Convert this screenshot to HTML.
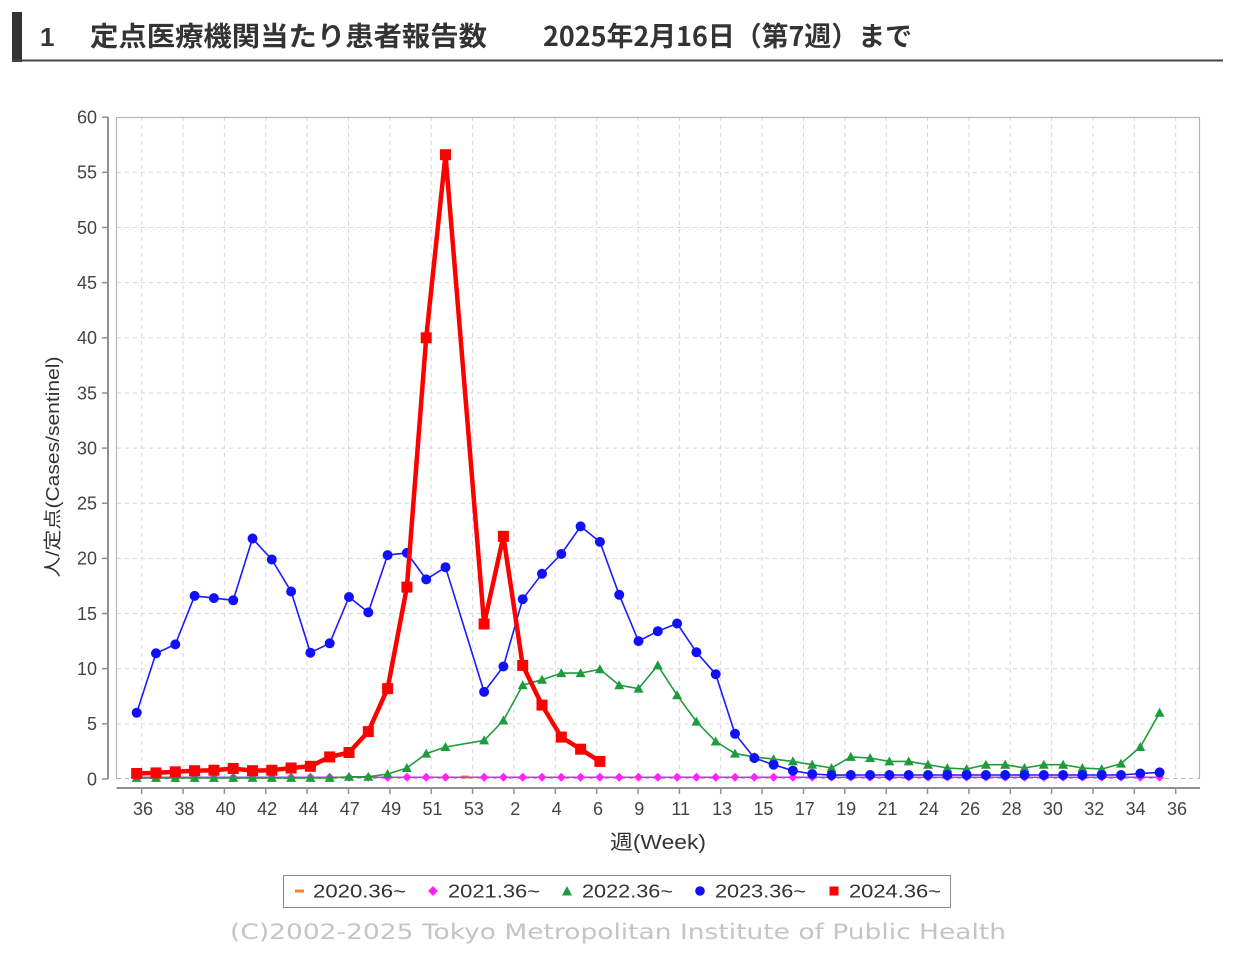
<!DOCTYPE html>
<html>
<head>
<meta charset="utf-8">
<style>
  html,body{margin:0;padding:0;background:#fff;}
  svg{display:block;}
  .tk{font-family:"Liberation Sans","DejaVu Sans",sans-serif;font-size:18px;fill:#444;}
</style>
</head>
<body>
<svg width="1237" height="960" viewBox="0 0 1237 960" xmlns="http://www.w3.org/2000/svg">
  <defs>
    <marker id="mB" markerWidth="12" markerHeight="12" refX="6" refY="6" markerUnits="userSpaceOnUse">
      <circle cx="6" cy="6" r="5" fill="#1010ff"/>
    </marker>
    <marker id="mG" markerWidth="12" markerHeight="12" refX="6" refY="6.5" markerUnits="userSpaceOnUse">
      <polygon points="6,1.5 11,10.5 1,10.5" fill="#1e9b3c"/>
    </marker>
    <marker id="mR" markerWidth="12" markerHeight="12" refX="6" refY="6" markerUnits="userSpaceOnUse">
      <rect x="0.5" y="0.5" width="11" height="11" fill="#ff0000"/>
    </marker>
    <marker id="mM" markerWidth="12" markerHeight="12" refX="6" refY="6" markerUnits="userSpaceOnUse">
      <polygon points="6,1.5 10.5,6 6,10.5 1.5,6" fill="#ff22ff"/>
    </marker>
  </defs>

  <!-- Title -->
  <rect x="12" y="12" width="10" height="50" fill="#333"/>
  <rect x="12" y="59.5" width="1211" height="2" fill="#444"/>
  <text x="40" y="46" font-family="'Liberation Sans','Noto Sans CJK JP',sans-serif" font-size="26" font-weight="600" fill="#333">1</text>
  <text x="90" y="46" font-family="'Liberation Sans','Noto Sans CJK JP',sans-serif" font-size="27" font-weight="600" fill="#333" textLength="397" lengthAdjust="spacingAndGlyphs">定点医療機関当たり患者報告数</text>
  <text x="543" y="46" font-family="'Noto Sans CJK JP','Liberation Sans',sans-serif" font-size="27" font-weight="600" fill="#333" textLength="369" lengthAdjust="spacingAndGlyphs">2025年2月16日（第7週）まで</text>

  <!-- Plot grid -->
  <g stroke="#d6d6d6" stroke-width="1" stroke-dasharray="4 4" fill="none">
    <line x1="117" x2="1200" y1="172.35" y2="172.35"/>
    <line x1="117" x2="1200" y1="227.5" y2="227.5"/>
    <line x1="117" x2="1200" y1="282.65" y2="282.65"/>
    <line x1="117" x2="1200" y1="337.8" y2="337.8"/>
    <line x1="117" x2="1200" y1="392.95" y2="392.95"/>
    <line x1="117" x2="1200" y1="448.1" y2="448.1"/>
    <line x1="117" x2="1200" y1="503.25" y2="503.25"/>
    <line x1="117" x2="1200" y1="558.4" y2="558.4"/>
    <line x1="117" x2="1200" y1="613.55" y2="613.55"/>
    <line x1="117" x2="1200" y1="668.7" y2="668.7"/>
    <line x1="117" x2="1200" y1="723.85" y2="723.85"/>
    <line x1="117" x2="1200" y1="778.5" y2="778.5" stroke="#b8b0c8"/>
    <line x1="141.7" x2="141.7" y1="117" y2="779"/>
    <line x1="183.1" x2="183.1" y1="117" y2="779"/>
    <line x1="224.4" x2="224.4" y1="117" y2="779"/>
    <line x1="265.8" x2="265.8" y1="117" y2="779"/>
    <line x1="307.1" x2="307.1" y1="117" y2="779"/>
    <line x1="348.5" x2="348.5" y1="117" y2="779"/>
    <line x1="389.9" x2="389.9" y1="117" y2="779"/>
    <line x1="431.2" x2="431.2" y1="117" y2="779"/>
    <line x1="472.6" x2="472.6" y1="117" y2="779"/>
    <line x1="513.9" x2="513.9" y1="117" y2="779"/>
    <line x1="555.3" x2="555.3" y1="117" y2="779"/>
    <line x1="596.7" x2="596.7" y1="117" y2="779"/>
    <line x1="638.0" x2="638.0" y1="117" y2="779"/>
    <line x1="679.4" x2="679.4" y1="117" y2="779"/>
    <line x1="720.7" x2="720.7" y1="117" y2="779"/>
    <line x1="762.1" x2="762.1" y1="117" y2="779"/>
    <line x1="803.5" x2="803.5" y1="117" y2="779"/>
    <line x1="844.8" x2="844.8" y1="117" y2="779"/>
    <line x1="886.2" x2="886.2" y1="117" y2="779"/>
    <line x1="927.5" x2="927.5" y1="117" y2="779"/>
    <line x1="968.9" x2="968.9" y1="117" y2="779"/>
    <line x1="1010.3" x2="1010.3" y1="117" y2="779"/>
    <line x1="1051.6" x2="1051.6" y1="117" y2="779"/>
    <line x1="1093.0" x2="1093.0" y1="117" y2="779"/>
    <line x1="1134.3" x2="1134.3" y1="117" y2="779"/>
    <line x1="1175.7" x2="1175.7" y1="117" y2="779"/>
  </g>
  <!-- plot border top/left/right -->
  <path d="M116.5,779 L116.5,117.5 L1199.5,117.5 L1199.5,779" fill="none" stroke="#b4b4b4" stroke-width="1.2"/>

  <!-- Y axis -->
  <line x1="108" x2="108" y1="117" y2="779" stroke="#909090" stroke-width="2"/>
  <g stroke="#909090" stroke-width="1.5">
    <line x1="102" x2="108" y1="117.2" y2="117.2"/>
    <line x1="102" x2="108" y1="172.35" y2="172.35"/>
    <line x1="102" x2="108" y1="227.5" y2="227.5"/>
    <line x1="102" x2="108" y1="282.65" y2="282.65"/>
    <line x1="102" x2="108" y1="337.8" y2="337.8"/>
    <line x1="102" x2="108" y1="392.95" y2="392.95"/>
    <line x1="102" x2="108" y1="448.1" y2="448.1"/>
    <line x1="102" x2="108" y1="503.25" y2="503.25"/>
    <line x1="102" x2="108" y1="558.4" y2="558.4"/>
    <line x1="102" x2="108" y1="613.55" y2="613.55"/>
    <line x1="102" x2="108" y1="668.7" y2="668.7"/>
    <line x1="102" x2="108" y1="723.85" y2="723.85"/>
    <line x1="102" x2="108" y1="779" y2="779"/>
  </g>
  <g class="tk" text-anchor="end">
    <text x="97" y="123.5">60</text>
    <text x="97" y="178.65">55</text>
    <text x="97" y="233.8">50</text>
    <text x="97" y="288.95">45</text>
    <text x="97" y="344.1">40</text>
    <text x="97" y="399.25">35</text>
    <text x="97" y="454.4">30</text>
    <text x="97" y="509.55">25</text>
    <text x="97" y="564.7">20</text>
    <text x="97" y="619.85">15</text>
    <text x="97" y="675">10</text>
    <text x="97" y="730.15">5</text>
    <text x="97" y="785.3">0</text>
  </g>
  <text transform="translate(59,467) rotate(-90)" text-anchor="middle" font-family="'Liberation Sans','Noto Sans CJK JP',sans-serif" font-size="18" fill="#333" textLength="221" lengthAdjust="spacingAndGlyphs">人/定点(Cases/sentinel)</text>

  <!-- X axis -->
  <line x1="116.5" x2="1200" y1="788" y2="788" stroke="#909090" stroke-width="2"/>
  <g stroke="#909090" stroke-width="1.5">
    <line x1="141.7" x2="141.7" y1="788" y2="794"/>
    <line x1="183.1" x2="183.1" y1="788" y2="794"/>
    <line x1="224.4" x2="224.4" y1="788" y2="794"/>
    <line x1="265.8" x2="265.8" y1="788" y2="794"/>
    <line x1="307.1" x2="307.1" y1="788" y2="794"/>
    <line x1="348.5" x2="348.5" y1="788" y2="794"/>
    <line x1="389.9" x2="389.9" y1="788" y2="794"/>
    <line x1="431.2" x2="431.2" y1="788" y2="794"/>
    <line x1="472.6" x2="472.6" y1="788" y2="794"/>
    <line x1="513.9" x2="513.9" y1="788" y2="794"/>
    <line x1="555.3" x2="555.3" y1="788" y2="794"/>
    <line x1="596.7" x2="596.7" y1="788" y2="794"/>
    <line x1="638.0" x2="638.0" y1="788" y2="794"/>
    <line x1="679.4" x2="679.4" y1="788" y2="794"/>
    <line x1="720.7" x2="720.7" y1="788" y2="794"/>
    <line x1="762.1" x2="762.1" y1="788" y2="794"/>
    <line x1="803.5" x2="803.5" y1="788" y2="794"/>
    <line x1="844.8" x2="844.8" y1="788" y2="794"/>
    <line x1="886.2" x2="886.2" y1="788" y2="794"/>
    <line x1="927.5" x2="927.5" y1="788" y2="794"/>
    <line x1="968.9" x2="968.9" y1="788" y2="794"/>
    <line x1="1010.3" x2="1010.3" y1="788" y2="794"/>
    <line x1="1051.6" x2="1051.6" y1="788" y2="794"/>
    <line x1="1093.0" x2="1093.0" y1="788" y2="794"/>
    <line x1="1134.3" x2="1134.3" y1="788" y2="794"/>
    <line x1="1175.7" x2="1175.7" y1="788" y2="794"/>
  </g>
  <g class="tk" text-anchor="middle">
    <text x="143" y="815">36</text>
    <text x="184.4" y="815">38</text>
    <text x="225.7" y="815">40</text>
    <text x="267.1" y="815">42</text>
    <text x="308.4" y="815">44</text>
    <text x="349.8" y="815">47</text>
    <text x="391.2" y="815">49</text>
    <text x="432.5" y="815">51</text>
    <text x="473.9" y="815">53</text>
    <text x="515.2" y="815">2</text>
    <text x="556.6" y="815">4</text>
    <text x="598" y="815">6</text>
    <text x="639.3" y="815">9</text>
    <text x="680.7" y="815">11</text>
    <text x="722" y="815">13</text>
    <text x="763.4" y="815">15</text>
    <text x="804.8" y="815">17</text>
    <text x="846.1" y="815">19</text>
    <text x="887.5" y="815">21</text>
    <text x="928.8" y="815">24</text>
    <text x="970.2" y="815">26</text>
    <text x="1011.6" y="815">28</text>
    <text x="1052.9" y="815">30</text>
    <text x="1094.3" y="815">32</text>
    <text x="1135.6" y="815">34</text>
    <text x="1177" y="815">36</text>
  </g>
  <text x="610" y="849" font-family="'Liberation Sans','Noto Sans CJK JP',sans-serif" font-size="20" fill="#333" textLength="96" lengthAdjust="spacingAndGlyphs">週(Week)</text>

  <!-- Series: 2020 (orange) -->
  <rect x="460.8" y="775.5" width="8" height="3" fill="#ff7f27"/>

  <!-- Series: 2021 (magenta) -->
  <path d="M136.7,777.2 L156,777.2 L175.3,777.2 L194.6,777.2 L213.9,777.2 L233.2,777.2 L252.5,777.2 L271.8,777.2 L291.1,777.2 L310.4,777.2 L329.7,777.2 L349,777.2 L368.3,777.2 L387.6,777.2 L406.9,777.2 L426.2,777.2 L445.5,777.2 L484.1,777.2 L503.4,777.2 L522.7,777.2 L542,777.2 L561.3,777.2 L580.6,777.2 L599.9,777.2 L619.2,777.2 L638.5,777.2 L657.8,777.2 L677.1,777.2 L696.4,777.2 L715.7,777.2 L735,777.2 L754.3,777.2 L773.6,777.2 L792.9,777.2 L812.2,777.2 L831.5,777.2 L850.8,777.2 L870.1,777.2 L889.4,777.2 L908.7,777.2 L928,777.2 L947.3,777.2 L966.6,777.2 L985.9,777.2 L1005.2,777.2 L1024.5,777.2 L1043.8,777.2 L1063.1,777.2 L1082.4,777.2 L1101.7,777.2 L1121,777.2 L1140.3,777.2 L1159.6,777.2" fill="none" stroke="#b040e0" stroke-width="1.5" marker-start="url(#mM)" marker-mid="url(#mM)" marker-end="url(#mM)"/>

  <!-- Series: 2022 (green) -->
  <path d="M136.7,777.9 L156,777.9 L175.3,777.9 L194.6,777.9 L213.9,777.9 L233.2,777.9 L252.5,777.9 L271.8,777.9 L291.1,777.9 L310.4,777.9 L329.7,777.9 L349,776.8 L368.3,776.8 L387.6,774 L406.9,768 L426.2,753.6 L445.5,747 L484.1,740.4 L503.4,720.5 L522.7,685.2 L542,679.7 L561.3,673.1 L580.6,673.1 L599.9,669.3 L619.2,685.2 L638.5,688.6 L657.8,665.4 L677.1,695.2 L696.4,721.6 L715.7,741.5 L735,753.6 L754.3,756.9 L773.6,759.1 L792.9,761.4 L812.2,764.7 L831.5,768 L850.8,756.9 L870.1,758 L889.4,761.4 L908.7,761.4 L928,764.7 L947.3,768 L966.6,769.1 L985.9,764.7 L1005.2,764.7 L1024.5,768 L1043.8,764.7 L1063.1,764.7 L1082.4,768 L1101.7,769.1 L1121,763.6 L1140.3,747 L1159.6,712.8" fill="none" stroke="#1e9b3c" stroke-width="1.6" stroke-linejoin="round" marker-start="url(#mG)" marker-mid="url(#mG)" marker-end="url(#mG)"/>

  <!-- Series: 2023 (blue) -->
  <path d="M136.7,712.8 L156,653.3 L175.3,644.4 L194.6,595.9 L213.9,598.1 L233.2,600.3 L252.5,538.5 L271.8,559.5 L291.1,591.5 L310.4,652.7 L329.7,643.3 L349,597 L368.3,612.4 L387.6,555.1 L406.9,552.9 L426.2,579.4 L445.5,567.2 L484.1,691.9 L503.4,666.5 L522.7,599.2 L542,573.8 L561.3,554 L580.6,526.4 L599.9,541.9 L619.2,594.8 L638.5,641.1 L657.8,631.2 L677.1,623.5 L696.4,652.2 L715.7,674.2 L735,733.8 L754.3,758 L773.6,764.7 L792.9,770.7 L812.2,774 L831.5,775.1 L850.8,775 L870.1,775 L889.4,775 L908.7,775 L928,775 L947.3,775 L966.6,775 L985.9,775 L1005.2,775 L1024.5,775 L1043.8,775 L1063.1,775 L1082.4,775 L1101.7,775 L1121,775 L1140.3,773.5 L1159.6,772.4" fill="none" stroke="#1a1aff" stroke-width="1.6" stroke-linejoin="round" marker-start="url(#mB)" marker-mid="url(#mB)" marker-end="url(#mB)"/>

  <!-- Series: 2024 (red) -->
  <path d="M136.7,773.5 L156,772.9 L175.3,771.8 L194.6,770.7 L213.9,770.2 L233.2,768.5 L252.5,770.7 L271.8,770.2 L291.1,768 L310.4,766.3 L329.7,756.9 L349,752.5 L368.3,731.6 L387.6,688.6 L406.9,587.1 L426.2,337.8 L445.5,154.7 L484.1,624 L503.4,536.3 L522.7,665.4 L542,705.1 L561.3,737.1 L580.6,749.2 L599.9,761.4" fill="none" stroke="#ff0000" stroke-width="4.5" stroke-linejoin="round" marker-start="url(#mR)" marker-mid="url(#mR)" marker-end="url(#mR)"/>

  <!-- Legend -->
  <rect x="283.5" y="875.5" width="667" height="32" fill="#fff" stroke="#8a8a8a" stroke-width="1"/>
  <rect x="295" y="889.5" width="9" height="3" fill="#ff7f27"/>
  <polygon points="433,886 438,891 433,896 428,891" fill="#ff22ff"/>
  <polygon points="567,886 572,895.5 562,895.5" fill="#1e9b3c"/>
  <circle cx="700" cy="891" r="4.8" fill="#1010ff"/>
  <rect x="829.5" y="886.5" width="9" height="9" fill="#ff0000"/>
  <g font-family="'Liberation Sans','DejaVu Sans',sans-serif" font-size="18" fill="#333">
    <text x="313" y="897.5" textLength="93" lengthAdjust="spacingAndGlyphs">2020.36~</text>
    <text x="448" y="897.5" textLength="92" lengthAdjust="spacingAndGlyphs">2021.36~</text>
    <text x="582" y="897.5" textLength="91" lengthAdjust="spacingAndGlyphs">2022.36~</text>
    <text x="715" y="897.5" textLength="91" lengthAdjust="spacingAndGlyphs">2023.36~</text>
    <text x="849" y="897.5" textLength="92" lengthAdjust="spacingAndGlyphs">2024.36~</text>
  </g>

  <!-- Copyright -->
  <text x="230" y="939" font-family="'DejaVu Sans','Liberation Sans',sans-serif" font-size="21" fill="#c4c4c4" textLength="776" lengthAdjust="spacingAndGlyphs">(C)2002-2025 Tokyo Metropolitan Institute of Public Health</text>
</svg>
</body>
</html>
